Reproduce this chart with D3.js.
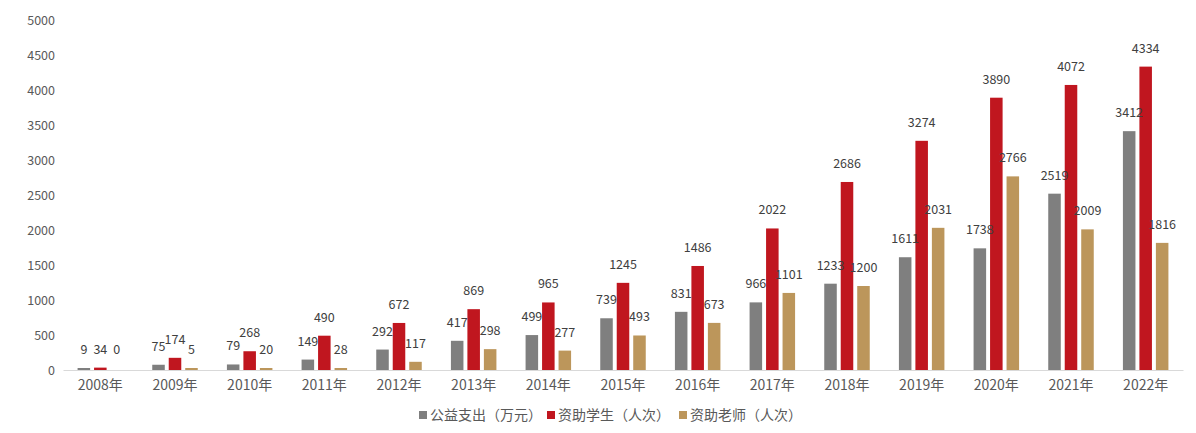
<!DOCTYPE html>
<html>
<head>
<meta charset="utf-8">
<script src="https://cdn.jsdelivr.net/npm/d3@7"></script>
<style>
	body { margin: 0; background: #fff; }
	text { font-family: "Noto Sans CJK SC", "DejaVu Sans", sans-serif; }
</style>
</head>
<body>
<script>
var years = ["2008年","2009年","2010年","2011年","2012年","2013年","2014年","2015年","2016年","2017年","2018年","2019年","2020年","2021年","2022年"];
var seriesNames = ["公益支出（万元）","资助学生（人次）","资助老师（人次）"];
var spending = [9,75,79,149,292,417,499,739,831,966,1233,1611,1738,2519,3412];
var students = [34,174,268,490,672,869,965,1245,1486,2022,2686,3274,3890,4072,4334];
var teachers = [0,5,20,28,117,298,277,493,673,1101,1200,2031,2766,2009,1816];
var yTicks = [0,500,1000,1500,2000,2500,3000,3500,4000,4500,5000];
var colors = ["#7f7f7f","#c0161f","#bc965b"];

var w = 1196;
var h = 433;
var plotLeft = 63, plotRight = 1183, plotTop = 20, plotBottom = 370;

var svg = d3.select("body")
	.append("svg")
	.attr("width", w)
	.attr("height", h);

var x0 = d3.scaleBand()
	.domain(years)
	.range([plotLeft, plotRight]);

var x1 = d3.scaleBand()
	.domain([0,1,2])
	.range([-22.75, 22.75])
	.paddingInner(0.24);

var y = d3.scaleLinear()
	.domain([0, 5000])
	.range([plotBottom, plotTop]);

// rows: one per year with the three values
var rows = years.map((yr, i) => ({
	year: yr,
	vals: [spending[i], students[i], teachers[i]]
}));

//Y axis labels
var yAxis = d3.axisLeft(y)
	.tickValues(yTicks)
	.tickFormat(d => d)
	.tickSize(0)
	.tickPadding(8);

svg.append("g")
	.attr("transform", "translate(" + plotLeft + ",0)")
	.call(yAxis)
	.call(g => g.select(".domain").remove())
	.selectAll("text")
	.attr("font-size", "12.5px")
	.attr("fill", "#595959");

//bars
var groups = svg.selectAll("g.year")
	.data(rows)
	.enter()
	.append("g")
	.attr("class", "year")
	.attr("transform", d => "translate(" + (x0(d.year) + x0.bandwidth()/2) + ",0)");

groups.selectAll("rect")
	.data(d => d.vals)
	.enter()
	.append("rect")
	.attr("x", (d, i) => x1(i))
	.attr("width", x1.bandwidth())
	.attr("y", d => d > 0 ? Math.min(y(d), plotBottom - 2) : plotBottom)
	.attr("height", d => d > 0 ? Math.max(plotBottom - y(d), 2) : 0)
	.attr("fill", (d, i) => colors[i]);

//value labels
groups.selectAll("text.val")
	.data(d => d.vals)
	.enter()
	.append("text")
	.attr("class", "val")
	.attr("x", (d, i) => x1(i) + x1.bandwidth()/2)
	.attr("y", d => Math.min(y(d), plotBottom - 2) - 14)
	.attr("text-anchor", "middle")
	.attr("font-size", "12.5px")
	.attr("fill", "#404040")
	.text(d => d);

//X axis
var xAxis = d3.axisBottom(x0)
	.tickSize(0)
	.tickPadding(10);

svg.append("g")
	.attr("transform", "translate(0," + plotBottom + ")")
	.call(xAxis)
	.call(g => g.select(".domain").attr("stroke", "#d9d9d9"))
	.selectAll("text")
	.attr("font-size", "14px")
	.attr("fill", "#595959");

//legend
var legendX = [419, 547, 679];
var legend = svg.selectAll("g.legend")
	.data(seriesNames)
	.enter()
	.append("g")
	.attr("class", "legend")
	.attr("transform", (d, i) => "translate(" + legendX[i] + ",415)");

legend.append("rect")
	.attr("x", 0)
	.attr("y", -4)
	.attr("width", 8)
	.attr("height", 8)
	.attr("fill", (d, i) => colors[i]);

legend.append("text")
	.attr("x", 11)
	.attr("y", 5)
	.attr("font-size", "14px")
	.attr("fill", "#595959")
	.text(d => d);
</script>
</body>
</html>
